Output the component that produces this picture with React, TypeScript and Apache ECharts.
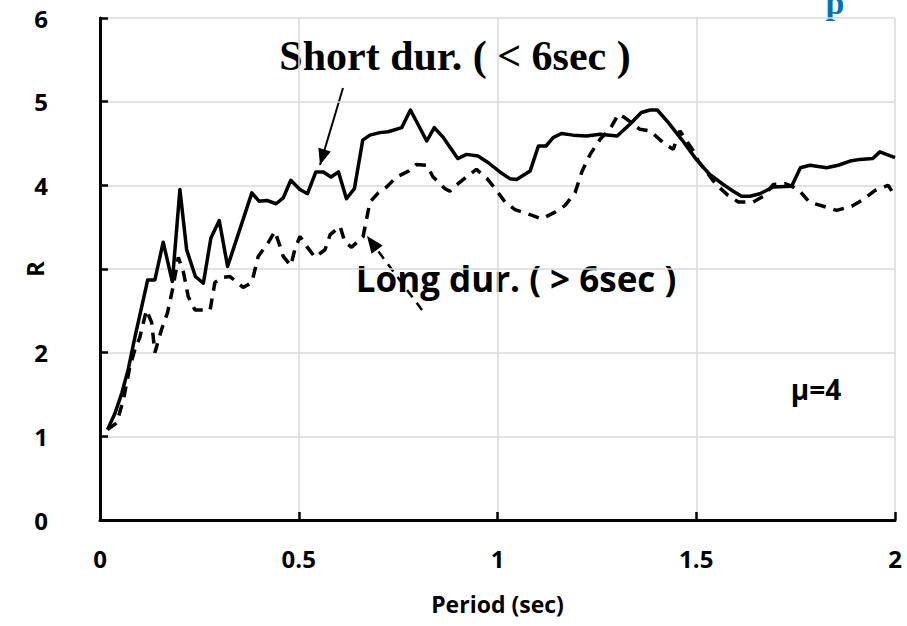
import React, { useEffect, useRef } from "react";
import * as echarts from "echarts";

// Short-duration records (< 6 sec): period (sec) and strength reduction factor R
const shortPeriod = [
  0.019, 0.038, 0.055, 0.071, 0.088, 0.105, 0.12, 0.138, 0.159, 0.182, 0.201, 0.218, 0.24, 0.26,
  0.279, 0.3, 0.321, 0.382, 0.4, 0.42, 0.443, 0.461, 0.48, 0.503, 0.522, 0.543, 0.562, 0.581, 0.6,
  0.62, 0.64, 0.661, 0.679, 0.704, 0.725, 0.759, 0.781, 0.822, 0.841, 0.864, 0.9, 0.922, 0.951,
  0.977, 1.006, 1.031, 1.048, 1.082, 1.103, 1.122, 1.14, 1.161, 1.19, 1.224, 1.258, 1.301, 1.333,
  1.362, 1.384, 1.402, 1.43, 1.463, 1.5, 1.534, 1.568, 1.593, 1.614, 1.635, 1.66, 1.694, 1.74,
  1.762, 1.786, 1.828, 1.857, 1.887, 1.912, 1.944, 1.962, 2.0,
];
const shortR = [
  1.08, 1.28, 1.52, 1.8, 2.19, 2.55, 2.87, 2.87, 3.32, 2.85, 3.95, 3.23, 2.91, 2.83, 3.37, 3.58,
  3.03, 3.91, 3.81, 3.82, 3.78, 3.85, 4.06, 3.95, 3.9, 4.16, 4.16, 4.1, 4.16, 3.84, 3.96, 4.54,
  4.6, 4.63, 4.64, 4.69, 4.9, 4.53, 4.69, 4.57, 4.32, 4.37, 4.35, 4.27, 4.16, 4.08, 4.07, 4.17,
  4.47, 4.47, 4.57, 4.62, 4.6, 4.59, 4.61, 4.59, 4.73, 4.87, 4.9, 4.9, 4.75, 4.55, 4.31, 4.13,
  4.01, 3.93, 3.87, 3.87, 3.9, 3.98, 3.99, 4.21, 4.24, 4.21, 4.24, 4.29, 4.31, 4.32, 4.4, 4.33,
];

// Long-duration records (> 6 sec)
const longPeriod = [
  0.019, 0.042, 0.059, 0.075, 0.088, 0.1, 0.117, 0.13, 0.138, 0.155, 0.17, 0.184, 0.197, 0.21,
  0.222, 0.239, 0.277, 0.289, 0.31, 0.327, 0.36, 0.382, 0.398, 0.424, 0.44, 0.453, 0.461, 0.48,
  0.49, 0.503, 0.52, 0.541, 0.566, 0.579, 0.604, 0.616, 0.633, 0.662, 0.679, 0.7, 0.721, 0.746,
  0.776, 0.796, 0.822, 0.838, 0.868, 0.88, 0.893, 0.922, 0.947, 0.974, 0.996, 1.019, 1.044, 1.082,
  1.111, 1.145, 1.17, 1.195, 1.212, 1.233, 1.258, 1.283, 1.304, 1.32, 1.358, 1.384, 1.417, 1.442,
  1.459, 1.493, 1.505, 1.534, 1.55, 1.58, 1.606, 1.643, 1.669, 1.694, 1.723, 1.74, 1.761, 1.784,
  1.82, 1.853, 1.891, 1.92, 1.95, 1.983, 2.0,
];
const longR = [
  1.08, 1.16, 1.44, 1.83, 2.04, 2.18, 2.51, 2.36, 2.0, 2.28, 2.48, 2.79, 3.14, 2.96, 2.67, 2.51,
  2.51, 2.84, 2.9, 2.91, 2.78, 2.84, 3.15, 3.32, 3.45, 3.27, 3.15, 3.04, 3.23, 3.39, 3.27, 3.14,
  3.23, 3.41, 3.51, 3.32, 3.26, 3.39, 3.8, 3.91, 3.98, 4.1, 4.17, 4.25, 4.24, 4.1, 3.96, 3.93,
  3.99, 4.1, 4.19, 4.08, 3.95, 3.8, 3.71, 3.65, 3.6, 3.68, 3.76, 3.91, 4.16, 4.37, 4.55, 4.67,
  4.85, 4.81, 4.67, 4.65, 4.51, 4.43, 4.65, 4.41, 4.29, 4.11, 4.01, 3.88, 3.8, 3.8, 3.87, 4.01,
  4.02, 3.99, 3.93, 3.8, 3.75, 3.7, 3.75, 3.83, 3.94, 4.0, 3.87,
];

// Tick labels shown on each axis (the "R" title sits over the 3 position)
const xTickLabels = [0, 0.5, 1, 1.5, 2];
const yTickLabels = [0, 1, 2, 4, 5, 6];

const pair = (xs: number[], ys: number[]) => xs.map((x, i) => [x, ys[i]]);

const LABEL_FONT = "'Open Sans', 'Noto Sans', 'DejaVu Sans', sans-serif";
const SERIF_FONT = "'Liberation Serif', 'DejaVu Serif', serif";

// Filled arrowhead polygon pointing from tail to tip
function arrowHead(tail: number[], tip: number[], len: number, half: number) {
  const dx = tip[0] - tail[0];
  const dy = tip[1] - tail[1];
  const d = Math.hypot(dx, dy);
  const ux = dx / d;
  const uy = dy / d;
  const bx = tip[0] - ux * len;
  const by = tip[1] - uy * len;
  return [
    [tip[0], tip[1]],
    [bx - uy * half, by + ux * half],
    [bx + uy * half, by - ux * half],
  ];
}

export default function App() {
  const ref = useRef<HTMLDivElement>(null);

  useEffect(() => {
    if (!ref.current) return;
    const chart = echarts.init(ref.current, undefined, { renderer: "svg" });

    const shortTail = [343, 88];
    const shortTip = [320, 165];
    const longTail = [422, 310];
    const longTip = [367, 236];

    chart.setOption({
      animation: false,
      backgroundColor: "#ffffff",
      grid: { left: 100, right: 12, top: 18, bottom: 106, containLabel: false },
      xAxis: {
        type: "value",
        min: 0,
        max: 2,
        interval: 0.5,
        name: "Period (sec)",
        nameLocation: "middle",
        nameGap: 72,
        nameMoveOverlap: false,
        nameTextStyle: { fontFamily: LABEL_FONT, fontWeight: "bold", fontSize: 23, color: "#000" },
        axisLine: { show: true, onZero: false, lineStyle: { color: "#000", width: 3 } },
        axisTick: { show: true, inside: true, length: 8, lineStyle: { color: "#000", width: 2.5 } },
        axisLabel: {
          margin: 26,
          fontFamily: LABEL_FONT,
          fontWeight: "bold",
          fontSize: 24,
          color: "#000",
          formatter: (v: number) => (xTickLabels.includes(v) ? String(v) : ""),
        },
        splitLine: { show: true, lineStyle: { color: "#d9d9d9", width: 1.5 } },
      },
      yAxis: {
        type: "value",
        min: 0,
        max: 6,
        interval: 1,
        name: "R",
        nameLocation: "middle",
        nameRotate: 90,
        nameGap: 54,
        nameMoveOverlap: false,
        nameTextStyle: { fontFamily: LABEL_FONT, fontWeight: "bold", fontSize: 24, color: "#000" },
        axisLine: { show: true, lineStyle: { color: "#000", width: 3 } },
        axisTick: { show: true, inside: true, length: 8, lineStyle: { color: "#000", width: 2.5 } },
        axisLabel: {
          margin: 52,
          fontFamily: LABEL_FONT,
          fontWeight: "bold",
          fontSize: 24,
          color: "#000",
          formatter: (v: number) => (yTickLabels.includes(v) ? String(v) : ""),
        },
        splitLine: { show: true, lineStyle: { color: "#d9d9d9", width: 1.5 } },
      },
      series: [
        {
          name: "Short dur.",
          type: "line",
          data: pair(shortPeriod, shortR),
          showSymbol: false,
          symbol: "none",
          lineStyle: { color: "#000", width: 3.5, join: "round" },
          z: 3,
        },
        {
          name: "Long dur.",
          type: "line",
          data: pair(longPeriod, longR),
          showSymbol: false,
          symbol: "none",
          lineStyle: { color: "#000", width: 3.5, type: [11, 8] },
          z: 2,
        },
      ],
      graphic: [
        {
          type: "text",
          x: 835,
          y: 19,
          style: {
            text: "p",
            fontFamily: SERIF_FONT,
            fontWeight: "bold",
            fontSize: 34,
            fill: "#0070c0",
            align: "center",
            verticalAlign: "bottom",
          },
        },
        {
          type: "text",
          x: 455,
          y: 56,
          style: {
            text: "Short dur. ( < 6sec )",
            fontFamily: SERIF_FONT,
            fontWeight: "bold",
            fontSize: 42,
            fill: "#000",
            align: "center",
            verticalAlign: "middle",
          },
        },
        {
          type: "line",
          shape: { x1: shortTail[0], y1: shortTail[1], x2: shortTip[0], y2: shortTip[1] },
          style: { stroke: "#000", lineWidth: 2 },
        },
        {
          type: "polygon",
          shape: { points: arrowHead(shortTail, shortTip, 16, 6.5) },
          style: { fill: "#000" },
        },
        {
          type: "text",
          x: 516,
          y: 278,
          style: {
            text: "Long dur. ( > 6sec )",
            fontFamily: LABEL_FONT,
            fontWeight: "bold",
            fontSize: 35,
            fill: "#000",
            align: "center",
            verticalAlign: "middle",
          },
        },
        {
          type: "line",
          shape: { x1: longTail[0], y1: longTail[1], x2: longTip[0], y2: longTip[1] },
          style: { stroke: "#000", lineWidth: 2.5, lineDash: [9, 7] },
        },
        {
          type: "polygon",
          shape: { points: arrowHead(longTail, longTip, 17, 7) },
          style: { fill: "#000" },
        },
        {
          type: "text",
          x: 816,
          y: 389,
          style: {
            text: "μ=4",
            fontFamily: LABEL_FONT,
            fontWeight: "bold",
            fontSize: 28,
            fill: "#000",
            align: "center",
            verticalAlign: "middle",
          },
        },
      ],
    });

    return () => chart.dispose();
  }, []);

  return (
    <div
      ref={ref}
      style={{ position: "absolute", left: 0, top: 0, width: 907, height: 626 }}
    />
  );
}
